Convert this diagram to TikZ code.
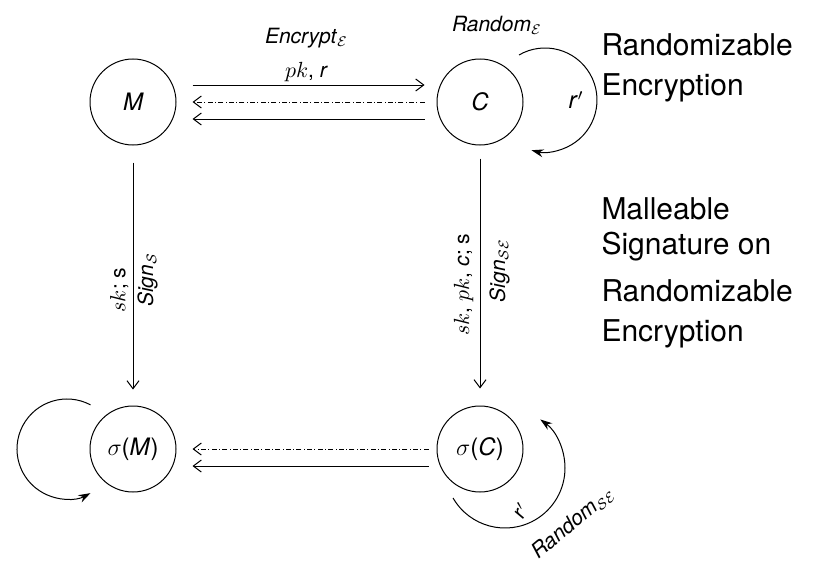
\documentclass[tikz,border=0pt]{standalone}
\usepackage{amsmath}
\usepackage{fontspec}
\setmainfont{TeX Gyre Heros}
\usetikzlibrary{arrows.meta}
\tikzset{>={Straight Barb[length=4pt,width=6pt]}}
\tikzset{
  state/.style={draw,circle,minimum size=43pt,inner sep=0pt,font=\fontsize{12}{14}\selectfont\itshape},
  loopend/.style={-{Stealth[length=6pt,width=4pt]}},
  dashdot/.style={dash pattern=on 2.5pt off 1.2pt on 0.4pt off 1.2pt},
  lbl/.style={font=\fontsize{10.5}{17}\selectfont,inner sep=1.5pt},
  big/.style={font=\fontsize{15}{20}\selectfont,align=left,inner sep=0pt},
}

\begin{document}
\begin{tikzpicture}[x=0.5pt,y=0.5pt,line width=0.5pt]
\def\Rc {26pt}   % radius of the loop on C
\def\RsM {25pt}  % radius of the loop on sigma(M)
\def\RsC {30pt}  % radius of the loop on sigma(C)
\useasboundingbox (0,0) rectangle (814,564);
% states:
 \node[state] (M)  at (133,462) {M};
 \node[state] (C)  at (480,462) {C};
 \node[state] (sM) at (133,115) {$\sigma$\textup{(}M\textup{)}};
 \node[state] (sC) at (480,115) {$\sigma$\textup{(}C\textup{)}};
% encryption / decryption:
 \draw[->,shorten <=8pt,shorten >=6pt] ([yshift=8.5pt]M.east) -- ([yshift=8.5pt]C.west)
   node[lbl,midway,above,align=center] {\textit{Encrypt}$_{\mathcal{E}}$\\$pk$, \textit{r}};
 \draw[->,dashdot,shorten <=6pt,shorten >=8pt] (C.west) -- (M.east);
 \draw[->,shorten <=6pt,shorten >=8pt] ([yshift=-8.5pt]C.west) -- ([yshift=-8.5pt]M.east);
% signing:
 \draw[->,shorten <=8.5pt,shorten >=8pt] (M) -- (sM)
   node[lbl,pos=0.556,rotate=90,anchor=south,inner sep=2pt] {$sk$; s}
   node[lbl,pos=0.517,rotate=90,anchor=north,inner sep=2pt] {\textit{Sign}$_{\mathcal{S}}$};
 \draw[->,shorten <=6.5pt,shorten >=8.5pt] (C) -- (sC)
   node[lbl,pos=0.535,rotate=90,anchor=south,inner sep=3pt] {$sk$, $pk$, \textit{c}; s}
   node[lbl,pos=0.48,rotate=90,anchor=north,inner sep=4.5pt] {\textit{Sign}$_{\mathcal{SE}}$};
% signature to message:
 \draw[->,dashdot,shorten <=4pt,shorten >=8pt] (sC.west) -- (sM.east);
 \draw[->,shorten <=4pt,shorten >=8pt] ([yshift=-8.5pt]sC.west) -- ([yshift=-8.5pt]sM.east);
% randomization loops:
 \coordinate (Cc) at ([shift={(32.5pt,1pt)}]C.center);
 \draw[loopend] ([shift={(120:\Rc)}]Cc) arc[start angle=120,end angle=-105,radius=\Rc];
 \node[lbl,font=\fontsize{12}{14}\selectfont] (rC) at ([shift={(48pt,1pt)}]C.center) {\textit{r}$'$};
 \node[lbl] (randE) at ([shift={(8.5pt,38.5pt)}]C.center) {\textit{Random}$_{\mathcal{E}}$};
 \coordinate (sMc) at ([xshift=-33pt]sM.center);
 \draw[loopend] ([shift={(62:\RsM)}]sMc) arc[start angle=62,end angle=298,radius=\RsM];
 \coordinate (sCc) at ([shift={(12.5pt,-9.5pt)}]sC.center);
 \draw[loopend] ([shift={(210:\RsC)}]sCc) arc[start angle=210,end angle=414,radius=\RsC];
 \node[lbl,rotate=50,inner sep=0pt] (rsC) at ([shift={(20.5pt,-31pt)}]sC.center) {r$'$};
 \node[lbl,rotate=40,inner sep=0pt] (randSE) at ([shift={(46.5pt,-37pt)}]sC.center) {\textit{Random}$_{\mathcal{SE}}$};
% schemes:
 \node[big,anchor=north west] (schemeE) at (601,531) {Randomizable\\Encryption};
 \node[big,anchor=north west] (schemeS) at (601,367) {Malleable\\[-2.5pt]Signature on\\[3.5pt]Randomizable\\Encryption};
\end{tikzpicture}
\end{document}
